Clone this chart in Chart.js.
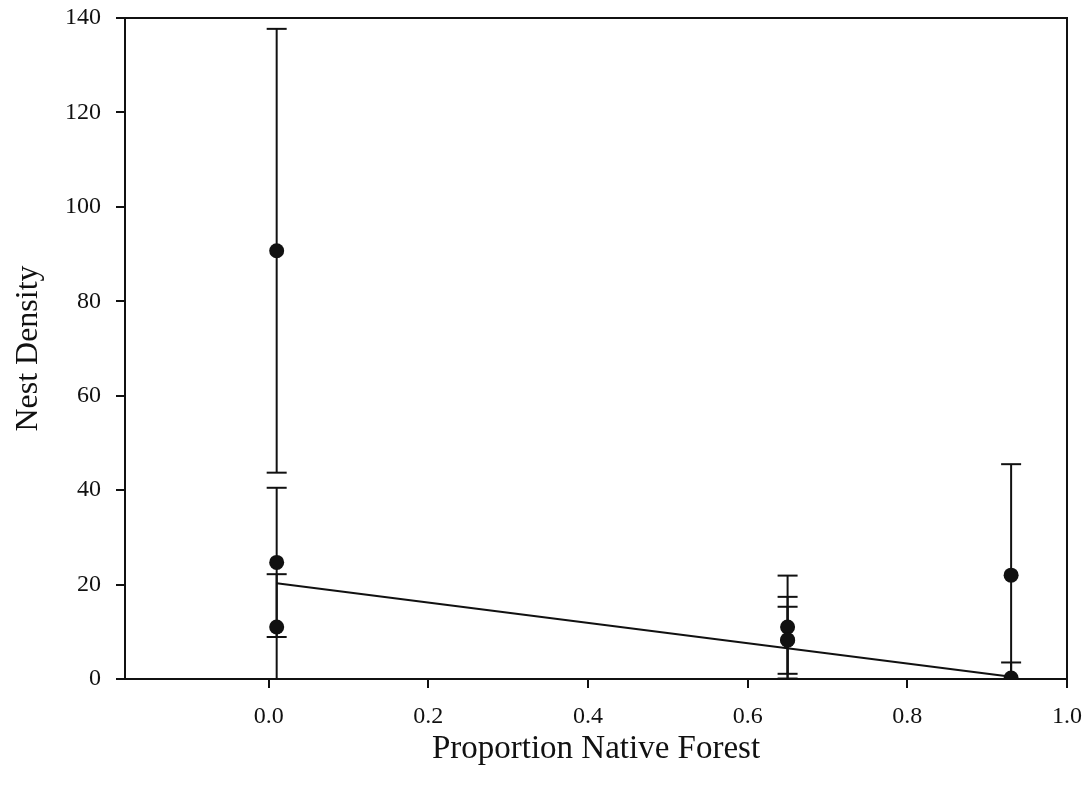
<!DOCTYPE html>
<html>
<head>
<meta charset="utf-8">
<script src="https://cdn.jsdelivr.net/npm/chart.js@4.4.0/dist/chart.umd.min.js"></script>
<style>
  html, body { margin: 0; padding: 0; background: #fff; }
  #wrap { width: 1091px; height: 793px; }
</style>
</head>
<body>
<div id="wrap"><canvas id="nestChart" width="1091" height="793"></canvas></div>
<script>
// site values
const forestProp = [0.01, 0.01, 0.01, 0.65, 0.65, 0.65, 0.93, 0.93];
const nestDensity = [90.7, 24.7, 11.0, 11.0, 8.3, 8.2, 22.0, 0.2];
const densityErr = [47.0, 15.8, 11.2, 10.9, 9.1, 7.1, 23.5, 3.3];

// fitted regression line end points
const fitX = [0.01, 0.93];
const fitY = [20.3, 0.5];

const xTicks = [0.0, 0.2, 0.4, 0.6, 0.8, 1.0];
const yTicks = [0, 20, 40, 60, 80, 100, 120, 140];

const ink = "#111";
const serif = "'Liberation Serif', 'DejaVu Serif', serif";

let datasets = [];

datasets.push({
	label: "sites",
	data: forestProp.map((x, i) => ({ x: x, y: nestDensity[i] })),
	showLine: false,
	pointRadius: 7.5,
	pointBackgroundColor: ink,
	pointBorderColor: ink,
	pointBorderWidth: 0,
});

// error bar stems
forestProp.forEach((x, i) => {
	const lo = Math.max(0, nestDensity[i] - densityErr[i]);
	const hi = nestDensity[i] + densityErr[i];
	datasets.push({
		label: "err" + i,
		data: [{ x: x, y: lo }, { x: x, y: hi }],
		showLine: true,
		borderColor: ink,
		borderWidth: 2,
		pointRadius: 0,
	});
});

// error bar caps
let caps = [];
forestProp.forEach((x, i) => {
	caps.push({ x: x, y: nestDensity[i] + densityErr[i] });
	if (nestDensity[i] - densityErr[i] >= 0) caps.push({ x: x, y: nestDensity[i] - densityErr[i] });
});
datasets.push({
	label: "caps",
	data: caps,
	showLine: false,
	pointStyle: "line",
	pointRadius: 10,
	pointBorderWidth: 2,
	pointBorderColor: ink,
	borderColor: ink,
});

datasets.push({
	label: "fit",
	data: fitX.map((x, i) => ({ x: x, y: fitY[i] })),
	showLine: true,
	borderColor: ink,
	borderWidth: 2,
	pointRadius: 0,
});

// closes the box on the top and right sides
const frame = {
	id: "frame",
	afterDraw(chart) {
		const a = chart.chartArea;
		const c = chart.ctx;
		c.save();
		c.strokeStyle = ink;
		c.lineWidth = 2;
		c.beginPath();
		c.moveTo(a.left, a.top);
		c.lineTo(a.right, a.top);
		c.lineTo(a.right, a.bottom);
		c.stroke();
		c.restore();
	},
};

const myChart = new Chart(document.getElementById("nestChart"), {
	type: "scatter",
	data: { datasets: datasets },
	plugins: [frame],
	options: {
		responsive: false,
		animation: false,
		layout: { padding: { top: 18, right: 24, left: 0, bottom: 0 } },
		plugins: { legend: { display: false }, tooltip: { enabled: false } },
		scales: {
			x: {
				type: "linear",
				min: -0.18,
				max: 1.0,
				afterBuildTicks: (s) => { s.ticks = xTicks.map((v) => ({ value: v })); },
				afterFit: (s) => { s.height = 114; s.paddingLeft = 0; s.paddingRight = 0; },
				ticks: {
					color: ink,
					padding: 14,
					font: { family: serif, size: 24 },
					callback: (v) => Number(v).toFixed(1),
				},
				grid: { display: true, drawOnChartArea: false, drawTicks: true, tickLength: 9, color: ink, lineWidth: 2 },
				border: { display: true, color: ink, width: 2 },
				title: {
					display: true,
					text: "Proportion Native Forest",
					color: ink,
					font: { family: serif, size: 33 },
					padding: { top: 0, bottom: 24 },
				},
			},
			y: {
				type: "linear",
				min: 0,
				max: 140,
				afterBuildTicks: (s) => { s.ticks = yTicks.map((v) => ({ value: v })); },
				afterFit: (s) => { s.width = 125; s.paddingTop = 0; s.paddingBottom = 0; },
				ticks: {
					color: ink,
					padding: 15,
					font: { family: serif, size: 24 },
				},
				grid: { display: true, drawOnChartArea: false, drawTicks: true, tickLength: 9, color: ink, lineWidth: 2 },
				border: { display: true, color: ink, width: 2 },
				title: {
					display: true,
					text: "Nest Density",
					color: ink,
					font: { family: serif, size: 32 },
					padding: { top: 9, bottom: 0 },
				},
			},
		},
	},
});
</script>
</body>
</html>
